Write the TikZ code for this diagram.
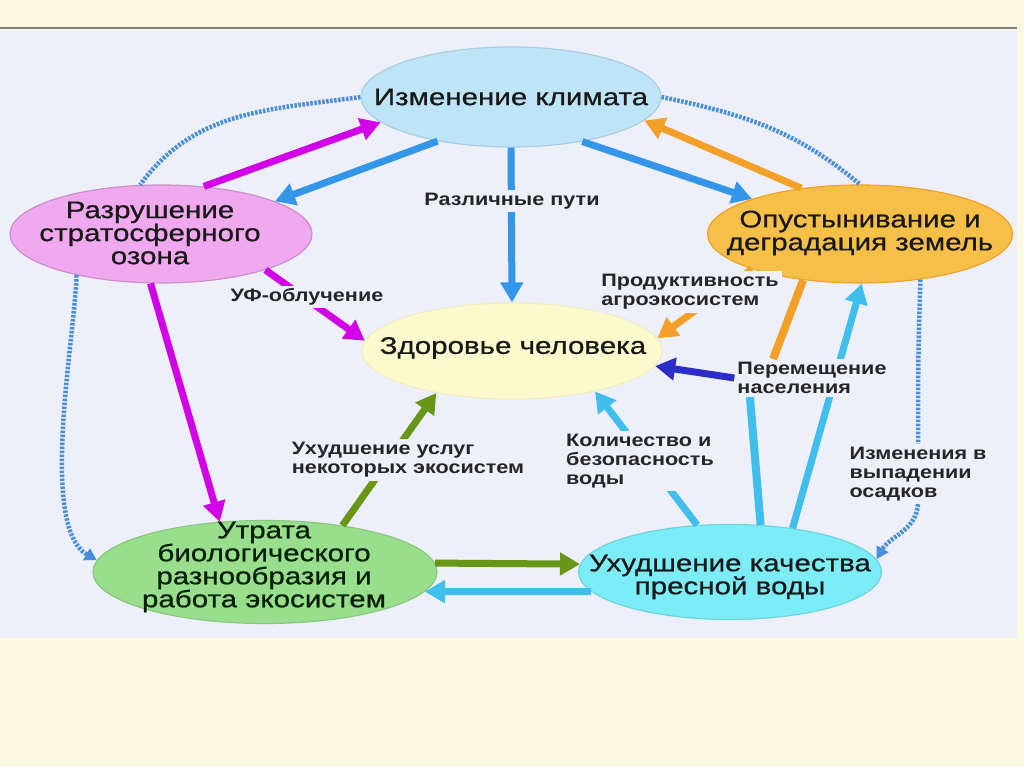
\documentclass[tikz,border=0pt]{standalone}
\usepackage{fontspec}
\setmainfont{Liberation Sans}
\newfontfamily\ellfont[FakeStretch=1.23,FakeBold=0.7]{Liberation Sans}
\newfontfamily\labfont[FakeStretch=1.2]{Liberation Sans}
\usetikzlibrary{arrows.meta}
\usetikzlibrary{shapes.geometric}

\definecolor{cream}{RGB}{252,249,226}
\definecolor{pane}{RGB}{237,239,250}
\definecolor{klimatc}{RGB}{190,228,248}
\definecolor{ozonc}{RGB}{240,168,238}
\definecolor{pustync}{RGB}{246,192,72}
\definecolor{zdorovc}{RGB}{252,250,204}
\definecolor{bioc}{RGB}{152,222,140}
\definecolor{vodac}{RGB}{124,236,246}
\definecolor{magentac}{RGB}{210,0,230}
\definecolor{bluec}{RGB}{52,150,232}
\definecolor{orangec}{RGB}{242,160,40}
\definecolor{greenc}{RGB}{104,150,24}
\definecolor{cyanc}{RGB}{64,190,236}
\definecolor{navyc}{RGB}{44,44,200}
\definecolor{dotc}{RGB}{72,142,216}

\tikzset{
 blob/.style={ellipse, inner sep=0pt, line width=1.2pt},
 blobtext/.style={font=\ellfont\fontsize{24}{23}\selectfont, align=center, text=black!90},
 lab/.style={font=\labfont\bfseries\fontsize{18}{19}\selectfont, align=left, fill=pane, inner sep=3pt, text=black!85},
 fat/.style={line width=7pt, -{Triangle[length=20pt,width=22pt]}},
 bar/.style={line width=8pt},
 dotline/.style={line width=4.5pt, dash pattern=on 2.5pt off 1.5pt, dotc},
}

\begin{document}
\begin{tikzpicture}[x=1pt,y=1pt]
\useasboundingbox (0,0) rectangle (1024,767);

\fill[cream] (0,0) rectangle (1024,767);
\fill[pane] (0,129) rectangle (1017,737);
\draw[gray,line width=1.5pt] (0,739) -- (1017,739);

% ellipses
\node[blob, fill=klimatc, draw=klimatc!90!black, minimum width=300, minimum height=100] (klimat) at (511,670) {};
\node[blob, fill=ozonc, draw=ozonc!85!black, minimum width=302, minimum height=98] (ozon) at (161,533) {};
\node[blob, fill=pustync, draw=orangec, minimum width=305, minimum height=98] (pustyn) at (860,533) {};
\node[blob, fill=zdorovc, draw=zdorovc!95!black, minimum width=300, minimum height=96] (zdorov) at (512,416) {};
\node[blob, fill=bioc, draw=bioc!90!black, minimum width=344, minimum height=103] (bio) at (265,195) {};
\node[blob, fill=vodac, draw=vodac!90!black, minimum width=303, minimum height=95] (voda) at (730,195) {};

\node[blobtext] (klimat-t) at (511,670) {Изменение климата};
\node[blobtext] (ozon-t) at (150,534) {Разрушение\\стратосферного\\озона};
\node[blobtext] (pustyn-t) at (860,534) {Опустынивание и\\деградация земель};
\node[blobtext] (zdorov-t) at (513,419) {Здоровье человека};
\node[blobtext, text=black!70!green!40!black] (bio-t) at (264,200) {Утрата\\биологического\\разнообразия и\\работа экосистем};
\node[blobtext] (voda-t) at (730,190) {Ухудшение качества\\пресной воды};

% arrows that pass under the labels
\draw[fat, bluec] (klimat.south) -- (zdorov.north);
\draw[fat, magentac] (ozon.341) -- (zdorov.176);
\draw[fat, orangec] (pustyn.198) -- (zdorov.5);
\draw[fat, greenc] (bio.31) -- (zdorov.209);
\draw[fat, cyanc] (voda.125) -- (zdorov.334);
\draw[fat, cyanc] (voda.35) -- (pustyn.272);

% labels
\node[lab] (razl) at (512,566) {Различные пути};
\node[lab] (uf) at (307,470) {УФ-облучение};
\node[lab] (prod) at (690,475) {Продуктивность\\агроэкосистем};
\node[lab] (perem) at (812,389) {Перемещение\\населения};
\node[lab] (usl) at (408,307) {Ухудшение услуг\\некоторых экосистем};
\node[lab] (kol) at (640,306) {Количество и\\безопасность\\воды};
\node[lab] (osad) at (918,293) {Изменения в\\выпадении\\осадков};

% main ring
\draw[fat, magentac] (ozon.48) -- (klimat.191);
\draw[fat, bluec] (klimat.211) -- (ozon.16);
\draw[fat, bluec] (klimat.328) -- (pustyn.162);
\draw[fat, orangec] (pustyn.142) -- (klimat.350);
\draw[fat, magentac] (ozon.258) -- (bio.132);
\draw[fat, greenc] (bio.3) -- (voda.177);
\draw[fat, cyanc] (voda.188) -- (bio.353);

% to and from the displacement label
\draw[bar, cyanc] (voda.57) -- (perem.197);
\draw[bar, orangec] (pustyn.219) -- (perem.154);
\draw[fat, navyc] (perem.west) -- (zdorov.354);

% dotted outer paths
\draw[dotline] (klimat.west) to[out=188,in=54] (ozon.113);
\draw[dotline] (klimat.east) to[out=-12,in=140] (pustyn.north);
\draw[dotline, -{Triangle[length=12pt,width=13pt]}] (ozon.206) to[out=-92,in=150,looseness=0.6] (bio.176);
\draw[dotline] (pustyn.323) to[out=-92,in=90] (osad.north);
\draw[dotline, -{Triangle[length=12pt,width=13pt]}] (osad.south) to[out=-95,in=60] (voda.5);

\end{tikzpicture}
\end{document}
